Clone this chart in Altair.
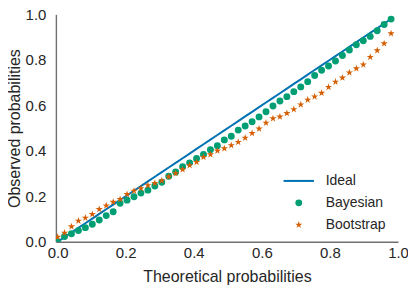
import altair as alt
import pandas as pd

# Theoretical probabilities (x positions of the quantile points)
theoretical = [0.0, 0.0204, 0.0408, 0.0612, 0.0816, 0.1020, 0.1224, 0.1429, 0.1633, 0.1837,
               0.2041, 0.2245, 0.2449, 0.2653, 0.2857, 0.3061, 0.3265, 0.3469, 0.3673, 0.3878,
               0.4082, 0.4286, 0.4490, 0.4694, 0.4898, 0.5102, 0.5306, 0.5510, 0.5714, 0.5918,
               0.6122, 0.6327, 0.6531, 0.6735, 0.6939, 0.7143, 0.7347, 0.7551, 0.7755, 0.7959,
               0.8163, 0.8367, 0.8571, 0.8776, 0.8980, 0.9184, 0.9388, 0.9592, 0.9796]

bayesian = [0.000, 0.023, 0.035, 0.049, 0.062, 0.077, 0.096, 0.115, 0.132, 0.169,
            0.183, 0.198, 0.214, 0.227, 0.245, 0.262, 0.288, 0.307, 0.330, 0.347,
            0.366, 0.384, 0.405, 0.422, 0.448, 0.464, 0.491, 0.509, 0.528, 0.549,
            0.572, 0.597, 0.619, 0.638, 0.660, 0.681, 0.704, 0.731, 0.754, 0.773,
            0.795, 0.819, 0.843, 0.866, 0.884, 0.903, 0.928, 0.955, 0.979]

bootstrap = [0.021, 0.039, 0.067, 0.092, 0.105, 0.121, 0.143, 0.159, 0.175, 0.187,
             0.209, 0.224, 0.235, 0.248, 0.258, 0.269, 0.286, 0.301, 0.318, 0.336,
             0.350, 0.372, 0.384, 0.400, 0.410, 0.424, 0.438, 0.457, 0.477, 0.497,
             0.523, 0.542, 0.550, 0.565, 0.582, 0.603, 0.624, 0.638, 0.654, 0.680,
             0.703, 0.721, 0.744, 0.762, 0.779, 0.812, 0.841, 0.872, 0.916]

series_names = ["Ideal", "Bayesian", "Bootstrap"]
series_colors = ["#0072B2", "#009E73", "#D55E00"]
# custom symbol paths: a thin bar (line sample) for "Ideal", and a five-pointed star
LINE_SAMPLE = "M-4.4,-0.29H4.4V0.29H-4.4Z"
STAR = ("M0,-1.1L0.247,-0.34L1.046,-0.34L0.399,0.13L0.647,0.89L0,0.42"
        "L-0.647,0.89L-0.399,0.13L-1.046,-0.34L-0.247,-0.34Z")
series_shapes = [LINE_SAMPLE, "circle", STAR]
axis_ticks = [0.0, 0.2, 0.4, 0.6, 0.8, 1.0]

df_ideal = pd.DataFrame({"x": theoretical, "y": theoretical})
df_pts = pd.concat([
    pd.DataFrame({"x": theoretical, "y": bayesian, "series": "Bayesian"}),
    pd.DataFrame({"x": theoretical, "y": bootstrap, "series": "Bootstrap"}),
], ignore_index=True)

TXT = "#262626"
FONT = "Liberation Sans"

x_enc = alt.X("x:Q",
              scale=alt.Scale(domain=[-0.005, 1.0], nice=False, zero=False),
              axis=alt.Axis(values=axis_ticks, format=".1f", title="Theoretical probabilities",
                            ticks=False, grid=False, labelFlush=False,
                            labelPadding=4, titlePadding=8))
y_enc = alt.Y("y:Q",
              scale=alt.Scale(domain=[0, 1], nice=False, zero=False),
              axis=alt.Axis(values=axis_ticks, format=".1f", title="Observed probabilities",
                            ticks=False, grid=False, labelFlush=False,
                            labelPadding=10, titlePadding=3))

line = alt.Chart(df_ideal).mark_line(strokeWidth=2, color="#0072B2", clip=True).encode(
    x=x_enc, y=y_enc,
)

legend = alt.Legend(orient="none", legendX=236.5, legendY=160, title=None,
                    labelFontSize=14, rowPadding=8, labelOffset=20, padding=0,
                    symbolSize=48)

points = alt.Chart(df_pts).mark_point(filled=True, opacity=1, size=48, clip=True).encode(
    x=x_enc, y=y_enc,
    color=alt.Color("series:N", scale=alt.Scale(domain=series_names, range=series_colors),
                    legend=legend),
    shape=alt.Shape("series:N", scale=alt.Scale(domain=series_names, range=series_shapes),
                    legend=legend),
)

chart = alt.layer(line, points).properties(
    width=343, height=228,
    autosize=alt.AutoSizeParams(type="none"),
    padding={"left": 48, "top": 6, "right": 10, "bottom": 46},
).configure_view(stroke=None).configure_axis(
    domainColor="#707070", domainWidth=1.4,
    labelColor=TXT, titleColor=TXT, labelFont=FONT, titleFont=FONT,
    labelFontSize=15, titleFontSize=16, titleFontWeight="normal",
).configure_legend(
    labelFont=FONT, labelColor=TXT,
)

chart.save("out.html", embed_options={"renderer": "svg", "actions": False})
